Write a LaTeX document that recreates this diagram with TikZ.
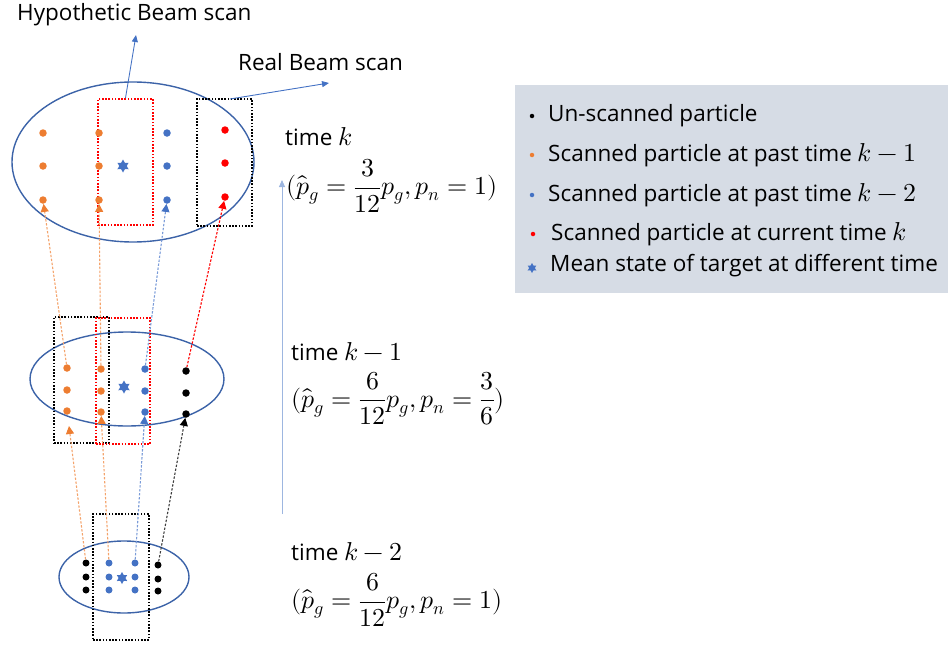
\documentclass[tikz,border=0pt]{standalone}
\usepackage{fontspec}
\usepackage{unicode-math}
\setmainfont{Open Sans}
\setmathfont{Latin Modern Math}[Scale=1.15]
\usetikzlibrary{arrows.meta,shapes.geometric}
\definecolor{cOr}{HTML}{ED7D31}
\definecolor{cOrL}{HTML}{F4A36B}
\definecolor{cBl}{HTML}{4472C4}
\definecolor{cBlL}{HTML}{7A9BD8}
\definecolor{cRd}{HTML}{FF0000}
\definecolor{cEl}{HTML}{3C63A8}
\definecolor{cLeg}{HTML}{D6DCE5}
\definecolor{cAr}{HTML}{9DB6E0}
\definecolor{cGr}{HTML}{404040}
\begin{document}
\begin{tikzpicture}[x=1pt,y=-1pt,
  pdot/.style={circle,fill=#1,inner sep=0pt,minimum size=7.5pt},
  sdot/.style={circle,fill=#1,inner sep=0pt,minimum size=7pt},
  ldot/.style={circle,fill=#1,inner sep=0pt,minimum size=4.5pt},
  mstar/.style={star,star points=6,star point ratio=1.75,fill=cBl,inner sep=0pt,minimum size=#1},
  ell/.style={ellipse,draw=cEl,line width=1.4pt,inner sep=0pt},
  dbox/.style={draw=#1,line width=2pt,dash pattern=on 1.6pt off 1.6pt,inner sep=0pt},
  conn/.style={draw=#1,line width=1.1pt,dash pattern=on 2.4pt off 1.6pt},
  ctip/.style={-{Triangle[width=8pt,length=8pt,color=#1]}},
  lab/.style={inner sep=0pt,anchor=west,font=\fontsize{22.5}{27}\selectfont},
  larr/.style={draw=cBl,line width=0.9pt,-{Triangle[width=6pt,length=7pt]}},
]
\useasboundingbox (0,0) rectangle (948,645);

% ---------- ellipses ----------
\node[ell,minimum width=242pt,minimum height=160pt] (e1) at (133,162) {};
\node[ell,minimum width=194pt,minimum height=94pt] (e2) at (127,379) {};
\node[ell,minimum width=130pt,minimum height=72pt] (e3) at (124,577) {};

% ---------- dotted boxes ----------
\node[dbox=cRd,minimum width=55pt,minimum height=126pt] (rb1) at (125.5,162) {};
\node[dbox=black,minimum width=55pt,minimum height=127pt] (kb1) at (224.5,162.5) {};
\node[dbox=black,minimum width=55pt,minimum height=126pt] (kb2) at (81.5,380) {};
\node[dbox=cRd,minimum width=54pt,minimum height=126pt] (rb2) at (123,381) {};
\node[dbox=black,minimum width=56pt,minimum height=126pt] (kb3) at (121,577) {};

% ---------- top level particles (time k) ----------
\foreach \i/\y in {1/133,2/166,3/200}{
  \node[pdot=cOr] (ta\i) at (43,\y) {};
  \node[pdot=cOr] (tb\i) at (99,\y) {};
  \node[pdot=cBl] (tc\i) at (167,\y) {};
}
\foreach \i/\y in {1/130,2/163,3/197}{
  \node[pdot=cRd] (td\i) at (225,\y) {};
}
\node[mstar=13pt] (ts) at (123,166) {};

% ---------- middle level particles (time k-1) ----------
\foreach \i/\y in {1/368,2/390,3/411}{
  \node[pdot=cOr] (ma\i) at (67,\y) {};
}
\foreach \i/\y in {1/369,2/391,3/412}{
  \node[pdot=cOr] (mb\i) at (101,\y) {};
  \node[pdot=cBl] (mc\i) at (145,\y) {};
}
\foreach \i/\y in {1/371,2/393,3/414}{
  \node[pdot=black] (md\i) at (186,\y) {};
}
\node[mstar=13pt] (ms) at (124,387) {};

% ---------- bottom level particles (time k-2) ----------
\foreach \i/\y in {1/563,2/577,3/590}{
  \node[sdot=black] (ba\i) at (86,\y) {};
  \node[sdot=cBl] (bb\i) at (109,\y) {};
  \node[sdot=cBl] (bc\i) at (135,\y) {};
}
\foreach \i/\y in {1/565,2/579,3/591}{
  \node[sdot=black] (bd\i) at (158,\y) {};
}
\node[mstar=12pt] (bs) at (122,578) {};

% ---------- connectors middle -> top ----------
\draw[conn=cOrL,ctip=cOr] (ma1) -- (ta3);
\draw[conn=cOrL,ctip=cOr] (mb1) -- (tb3);
\draw[conn=cBlL,ctip=cBl] (mc1) -- (tc3);
\draw[conn=cRd,ctip=cRd] (md1) -- (td3);

% ---------- connectors bottom -> middle ----------
\coordinate (maT) at (69,426);
\draw[conn=cOrL,ctip=cOr] (ba1) -- (maT);
\draw[conn=cOrL,ctip=cOr] (bb1) -- (mb3);
\draw[conn=cBlL,ctip=cBl] (bc1) -- (mc3);
\draw[conn=cGr,ctip=black] (bd1) -- (md3);

% ---------- beam scan labels ----------
\node[lab] (hyp) at (17,15) {Hypothetic Beam scan};
\node[lab] (real) at (238,62) {Real Beam scan};
\coordinate (hypT) at (136,35);
\coordinate (realT) at (329,83);
\draw[larr] (rb1.north) -- (hypT);
\coordinate (kbA) at (230,99);
\draw[larr] (kbA) -- (realT);

% ---------- time axis ----------
\coordinate (axB) at (282,514);
\coordinate (axT) at (282,180);
\draw[draw=cAr,line width=0.9pt,-{Triangle[width=6pt,length=7pt]}] (axB) -- (axT);

% ---------- time labels ----------
\node[lab] (t0) at (285,137) {time $k$};
\node[lab] (f0) at (286,186) {$(\hat{p}_g=\dfrac{3}{12}p_g,p_n=1)$};
\node[lab] (t1) at (291,352) {time $k-1$};
\node[lab] (f1) at (291,399) {$(\hat{p}_g=\dfrac{6}{12}p_g,p_n=\dfrac{3}{6})$};
\node[lab] (t2) at (291,552) {time $k-2$};
\node[lab] (f2) at (291,600) {$(\hat{p}_g=\dfrac{6}{12}p_g,p_n=1)$};

% ---------- legend ----------
\node[fill=cLeg,inner sep=0pt,minimum width=433pt,minimum height=208pt,anchor=north west] (leg) at (515,85) {};
\node[ldot=black] (l1d) at (532,116) {};
\node[lab] (l1) at (548,116) {Un-scanned particle};
\node[ldot=cOr] (l2d) at (532,155) {};
\node[lab] (l2) at (548,155) {Scanned particle at past time $k-1$};
\node[ldot=cBl] (l3d) at (532,195) {};
\node[lab] (l3) at (548,195) {Scanned particle at past time $k-2$};
\node[ldot=cRd] (l4d) at (533,234) {};
\node[lab] (l4) at (551,234) {Scanned particle at current time $k$};
\node[mstar=10pt] (l5d) at (532,268) {};
\node[lab] (l5) at (550,266) {Mean state of target at different time};
\end{tikzpicture}
\end{document}
